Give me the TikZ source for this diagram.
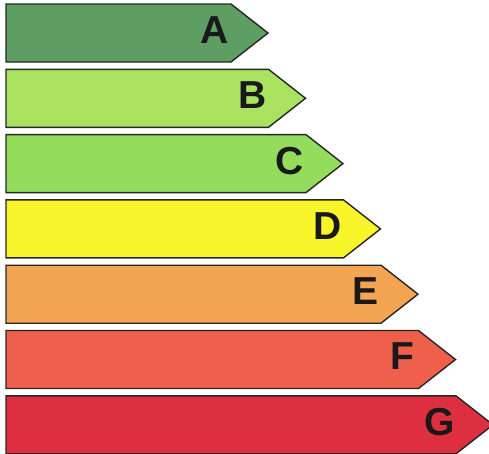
\documentclass[tikz,border=0pt]{standalone}
\usepackage{fontspec}
\setmainfont{Liberation Sans}
\usetikzlibrary{positioning}
\definecolor{ClassA}{HTML}{5F9E63}
\definecolor{ClassB}{HTML}{A9E25E}
\definecolor{ClassC}{HTML}{94DC5C}
\definecolor{ClassD}{HTML}{F8F62A}
\definecolor{ClassE}{HTML}{F4A552}
\definecolor{ClassF}{HTML}{EF604C}
\definecolor{ClassG}{HTML}{DE2F40}
\tikzset{
  band/.style={draw=black!85,line width=1.4pt,line join=miter},
  grade/.style={font=\fontsize{39}{39}\selectfont\bfseries,text=black!90,inner sep=0pt}
}

\begin{document}
\begin{tikzpicture}[x=1pt,y=-1pt]
    \useasboundingbox (0,0) rectangle (489,453);
    \foreach \i/\lab/\col in {
      0/A/ClassA,
      1/B/ClassB,
      2/C/ClassC,
      3/D/ClassD,
      4/E/ClassE,
      5/F/ClassF,
      6/G/ClassG}{
      \pgfmathsetmacro{\ytop}{4+65.3*\i}
      \pgfmathsetmacro{\ybot}{\ytop+58}
      \pgfmathsetmacro{\ymid}{\ytop+29}
      \pgfmathsetmacro{\xtip}{268+37.5*\i}
      \pgfmathsetmacro{\xbody}{\xtip-37}
      \filldraw[band,fill=\col] (6,\ytop) -- (\xbody,\ytop) -- (\xtip,\ymid)
        -- (\xbody,\ybot) -- (6,\ybot) -- cycle;
      \node[grade] (grade\lab) at (\xtip-53,\ymid-3) {\lab};
    }
  \end{tikzpicture}
\end{document}
